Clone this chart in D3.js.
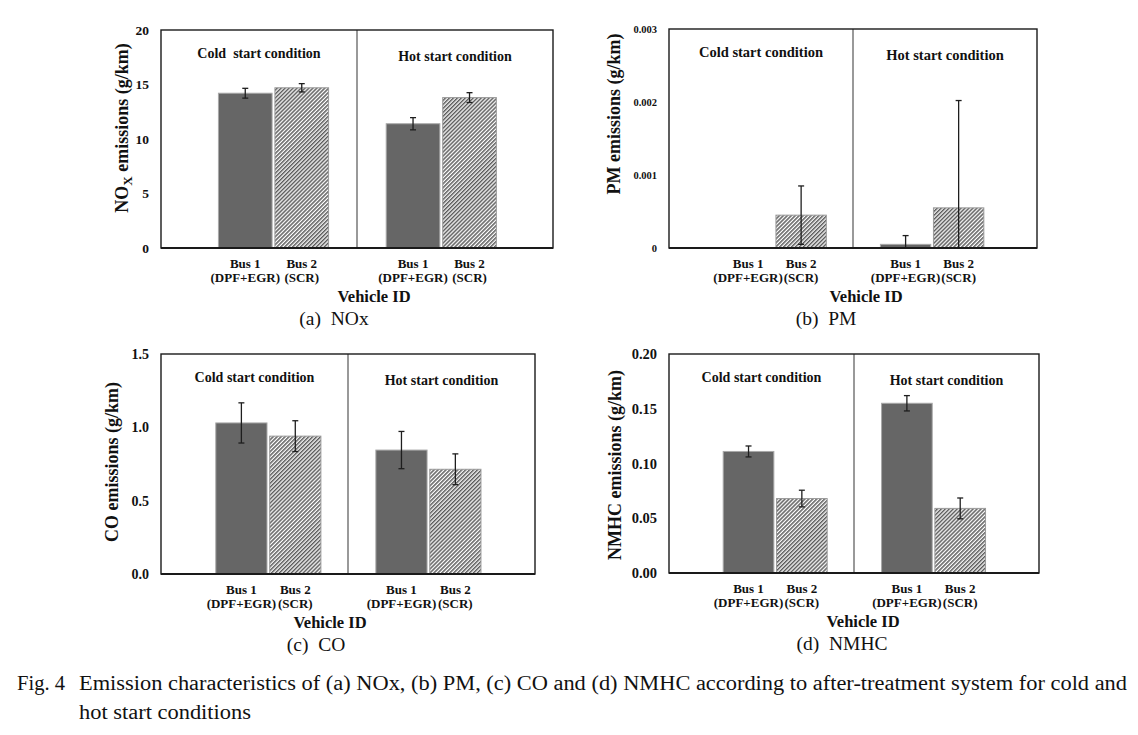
<!DOCTYPE html>
<html>
<head>
<meta charset="utf-8">
<script src="https://cdn.jsdelivr.net/npm/d3@7"></script>
<style>
  body { margin: 0; background: #fff; }
  svg { display: block; }
  text { font-family: "Liberation Serif", "Times New Roman", serif; fill: #111; }
</style>
</head>
<body>
<div id="chart"></div>
<script>
// ---- data ----
var conditions = ['Cold', 'Hot'];
var conditionLabels = ['Cold start condition', 'Hot start condition'];
var buses = ['Bus 1', 'Bus 2'];
var busSub = ['(DPF+EGR)', '(SCR)'];

// values per [cold bus1, cold bus2, hot bus1, hot bus2]
var noxValues = [14.2, 14.7, 11.4, 13.8];
var noxErrors = [0.45, 0.38, 0.56, 0.45];
var pmValues = [0, 0.00045, 0.00005, 0.00055];
var pmErrors = [0, 0.0004, 0.00012, 0.00147];
var coValues = [1.03, 0.94, 0.845, 0.714];
var coErrors = [0.137, 0.105, 0.127, 0.105];
var nmhcValues = [0.111, 0.068, 0.155, 0.059];
var nmhcErrors = [0.005, 0.0076, 0.007, 0.0095];

var noxTicks = [0, 5, 10, 15, 20];
var pmTicks = [0, 0.001, 0.002, 0.003];
var coTicks = [0, 0.5, 1.0, 1.5];
var nmhcTicks = [0, 0.05, 0.10, 0.15, 0.20];

var captionLine1 = 'Emission characteristics of (a) NOx, (b) PM, (c) CO and (d) NMHC according to after-treatment system for cold and';
var captionLine2 = 'hot start conditions';

// ---- layout (pixels) ----
var W = 1138, H = 735;

var panels = [
  {id: 'a', values: noxValues, errors: noxErrors, ticks: noxTicks, fmt: d3.format('d'), max: 20,
   title: 'nox', cap: '(a)  NOx', coldLabel: 'Cold  start condition',
   box: {l: 161, r: 553, t: 30, b: 248}, tick: 13.5, cond: 14, ytx: 122, yty: 128, vidx: 374, capx: 334},
  {id: 'b', values: pmValues, errors: pmErrors, ticks: pmTicks,
   fmt: function(d){ return d === 0 ? '0' : d3.format('.3f')(d); }, max: 0.003,
   title: 'PM emissions (g/km)', cap: '(b)  PM',
   box: {l: 669, r: 1037, t: 29, b: 248}, tick: 10.5, cond: 14.5, ytx: 614, yty: 114, vidx: 866, capx: 826},
  {id: 'c', values: coValues, errors: coErrors, ticks: coTicks, fmt: d3.format('.1f'), max: 1.5,
   title: 'CO emissions (g/km)', cap: '(c)  CO',
   box: {l: 161, r: 535, t: 354, b: 574}, tick: 14, cond: 14, ytx: 112, yty: 462, vidx: 330, capx: 316},
  {id: 'd', values: nmhcValues, errors: nmhcErrors, ticks: nmhcTicks, fmt: d3.format('.2f'), max: 0.2,
   title: 'NMHC emissions (g/km)', cap: '(d)  NMHC',
   box: {l: 669, r: 1039, t: 354, b: 573}, tick: 14.5, cond: 14, ytx: 615, yty: 465, vidx: 863, capx: 842}
];

// where each condition's pair of bars sits inside its half of the plot
var pairOffset = {Cold: 0.293, Hot: 0.149};
var pairSpan = 0.562;

var svg = d3.select('#chart').append('svg')
  .attr('width', W)
  .attr('height', H);

var defs = svg.append('defs');
var pat = defs.append('pattern')
  .attr('id', 'hatch')
  .attr('patternUnits', 'userSpaceOnUse')
  .attr('width', 2.8)
  .attr('height', 10)
  .attr('patternTransform', 'rotate(45)');
pat.append('rect').attr('width', 2.8).attr('height', 10).attr('fill', '#fff');
pat.append('line')
  .attr('x1', 0.75).attr('y1', 0).attr('x2', 0.75).attr('y2', 10)
  .attr('stroke', '#5c5c5c').attr('stroke-width', 1.5);

panels.forEach(function(p) {
  var g = svg.append('g').attr('class', 'panel-' + p.id);
  var bx = p.box;
  var y = d3.scaleLinear().domain([0, p.max]).range([bx.b, bx.t]);
  var outer = d3.scaleBand().domain(conditions).range([bx.l, bx.r]);
  var half = outer.bandwidth();

  var rows = [];
  conditions.forEach(function(c, ci) {
    var x0 = outer(c) + pairOffset[c] * half;
    var inner = d3.scaleBand().domain(buses).range([x0, x0 + pairSpan * half]).paddingInner(0.05);
    buses.forEach(function(b, bi) {
      var k = ci * 2 + bi;
      rows.push({cond: c, bus: b, sub: busSub[bi], bi: bi,
                 x: inner(b), w: inner.bandwidth(), v: p.values[k], e: p.errors[k]});
    });
  });

  // divider between cold and hot
  g.append('line')
    .attr('x1', outer('Hot')).attr('x2', outer('Hot'))
    .attr('y1', bx.t).attr('y2', bx.b)
    .attr('stroke', '#555').attr('stroke-width', 1.2);

  // bars
  g.selectAll('rect.bar')
    .data(rows.filter(function(d){ return d.v > 0; }))
    .enter().append('rect')
    .attr('class', 'bar')
    .attr('x', function(d){ return d.x; })
    .attr('width', function(d){ return d.w; })
    .attr('y', function(d){ return y(d.v); })
    .attr('height', function(d){ return bx.b - y(d.v); })
    .attr('fill', function(d){ return d.bi === 0 ? '#666666' : 'url(#hatch)'; })
    .attr('stroke', function(d){ return d.bi === 0 ? '#a8a8a8' : '#9a9a9a'; })
    .attr('stroke-width', 1);

  // error bars
  var eb = g.selectAll('g.err')
    .data(rows.filter(function(d){ return d.e > 0; }))
    .enter().append('g').attr('class', 'err');
  var lo = function(d){ return y(Math.max(0, d.v - d.e)); };
  var hi = function(d){ return y(d.v + d.e); };
  var cx = function(d){ return d.x + d.w / 2; };
  eb.append('line')
    .attr('x1', cx).attr('x2', cx).attr('y1', lo).attr('y2', hi)
    .attr('stroke', '#1e1e1e').attr('stroke-width', 1.3);
  eb.append('line')
    .attr('x1', function(d){ return cx(d) - 3; }).attr('x2', function(d){ return cx(d) + 3; })
    .attr('y1', hi).attr('y2', hi)
    .attr('stroke', '#1e1e1e').attr('stroke-width', 1.3);
  eb.append('line')
    .attr('x1', function(d){ return cx(d) - 3; }).attr('x2', function(d){ return cx(d) + 3; })
    .attr('y1', lo).attr('y2', lo)
    .attr('stroke', '#1e1e1e').attr('stroke-width', 1.3);

  // plot frame
  g.append('rect')
    .attr('x', bx.l).attr('y', bx.t)
    .attr('width', bx.r - bx.l).attr('height', bx.b - bx.t)
    .attr('fill', 'none').attr('stroke', '#1a1a1a').attr('stroke-width', 1.4);
  g.append('line')
    .attr('x1', bx.l).attr('x2', bx.r).attr('y1', bx.b).attr('y2', bx.b)
    .attr('stroke', '#1a1a1a').attr('stroke-width', 2);

  // y axis
  var ax = g.append('g')
    .attr('transform', 'translate(' + bx.l + ',0)')
    .call(d3.axisLeft(y).tickValues(p.ticks).tickFormat(p.fmt).tickSize(0).tickPadding(12));
  ax.select('.domain').remove();
  ax.selectAll('text')
    .attr('font-family', '"Liberation Serif", serif')
    .attr('font-weight', 'bold')
    .attr('font-size', p.tick)
    .attr('fill', '#111');

  // condition labels
  g.selectAll('text.cond')
    .data(conditions)
    .enter().append('text')
    .attr('class', 'cond')
    .attr('x', function(c){ return outer(c) + half / 2; })
    .attr('y', function(c, i){ return bx.t + (i === 0 ? 28 : 31); })
    .attr('text-anchor', 'middle')
    .attr('font-weight', 'bold')
    .attr('font-size', p.cond)
    .attr('xml:space', 'preserve')
    .text(function(c, i){ return (i === 0 && p.coldLabel) ? p.coldLabel : conditionLabels[i]; });

  // category labels
  var cl = g.selectAll('text.cat')
    .data(rows)
    .enter().append('text')
    .attr('class', 'cat')
    .attr('text-anchor', 'middle')
    .attr('font-weight', 'bold')
    .attr('font-size', 13);
  cl.append('tspan')
    .attr('x', cx).attr('y', bx.b + 20)
    .text(function(d){ return d.bus; });
  cl.append('tspan')
    .attr('x', cx).attr('y', bx.b + 34)
    .text(function(d){ return d.sub; });

  // x title
  g.append('text')
    .attr('x', p.vidx).attr('y', bx.b + 54)
    .attr('text-anchor', 'middle')
    .attr('font-weight', 'bold')
    .attr('font-size', 16.5)
    .text('Vehicle ID');

  // panel caption
  g.append('text')
    .attr('x', p.capx).attr('y', bx.b + 77)
    .attr('text-anchor', 'middle')
    .attr('font-size', 19.5)
    .attr('xml:space', 'preserve')
    .text(p.cap);

  // y title
  var yt = g.append('text')
    .attr('transform', 'translate(' + (p.ytx + 6) + ',' + p.yty + ') rotate(-90)')
    .attr('text-anchor', 'middle')
    .attr('font-weight', 'bold')
    .attr('font-size', 18);
  if (p.title === 'nox') {
    yt.append('tspan').text('NO');
    yt.append('tspan').attr('font-size', 13).attr('dy', 4).text('X');
    yt.append('tspan').attr('dy', -4).text(' emissions (g/km)');
  } else {
    yt.text(p.title);
  }
});

// figure caption
svg.append('text')
  .attr('x', 17).attr('y', 690)
  .attr('font-size', 20)
  .attr('textLength', 48)
  .attr('lengthAdjust', 'spacingAndGlyphs')
  .text('Fig. 4');
svg.append('text')
  .attr('x', 79).attr('y', 690)
  .attr('font-size', 20)
  .attr('textLength', 1048)
  .attr('lengthAdjust', 'spacingAndGlyphs')
  .text(captionLine1);
svg.append('text')
  .attr('x', 79).attr('y', 719)
  .attr('font-size', 20)
  .attr('textLength', 172)
  .attr('lengthAdjust', 'spacingAndGlyphs')
  .text(captionLine2);
</script>
</body>
</html>
